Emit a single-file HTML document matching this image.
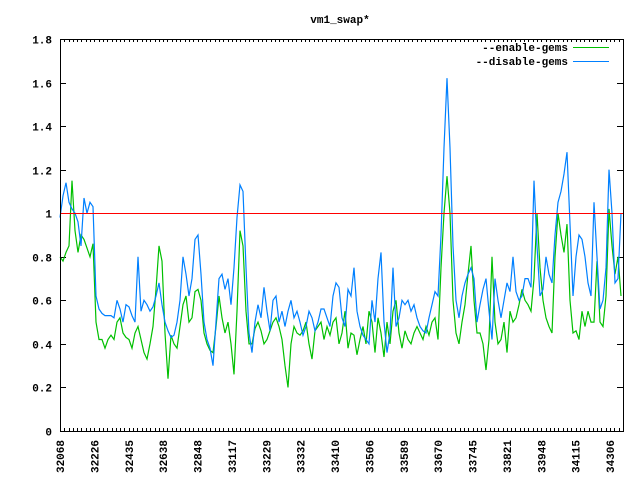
<!DOCTYPE html>
<html><head><meta charset="utf-8"><style>
html,body{margin:0;padding:0;background:#fff;}
svg text{font-family:"Liberation Mono","DejaVu Sans Mono",monospace;font-size:11px;font-weight:bold;fill:#000;}
</style></head><body>
<svg id="chart" width="640" height="480" xmlns="http://www.w3.org/2000/svg">
<rect x="0" y="0" width="640" height="480" fill="#fff"/>
<text x="340" y="23" text-anchor="middle">vm1_swap*</text>
<g id="axes"></g>
<g id="series"></g>
<rect x="60.5" y="39.5" width="563" height="392" fill="none" stroke="#000"/>
<g>
<text x="568" y="51" text-anchor="end">--enable-gems</text>
<line x1="573" y1="47.5" x2="609" y2="47.5" stroke="#00c000"/>
<text x="568" y="65" text-anchor="end">--disable-gems</text>
<line x1="573" y1="61.5" x2="609" y2="61.5" stroke="#0080ff"/>
</g>
</svg>
<script>
const xLabels=["32068","32226","32435","32638","32848","33117","33229","33332","33410","33506","33589","33670","33745","33821","33948","34115","34306"];
const yTicks=[0,0.2,0.4,0.6,0.8,1,1.2,1.4,1.6,1.8];
const yTickLabels=["0","0.2","0.4","0.6","0.8","1","1.2","1.4","1.6","1.8"];
const refValue=1;
const disableGems=[0.98,1.08,1.14,1.05,1.02,1.0,0.96,0.85,1.07,1.0,1.05,1.03,0.62,0.56,0.54,0.53,0.53,0.53,0.52,0.6,0.56,0.5,0.58,0.57,0.53,0.5,0.8,0.55,0.6,0.58,0.55,0.57,0.62,0.68,0.58,0.5,0.46,0.43,0.44,0.5,0.6,0.8,0.72,0.62,0.7,0.88,0.9,0.72,0.5,0.42,0.38,0.3,0.5,0.7,0.72,0.65,0.7,0.58,0.75,0.98,1.13,1.1,0.75,0.45,0.36,0.5,0.58,0.52,0.66,0.55,0.46,0.6,0.62,0.5,0.55,0.48,0.55,0.6,0.52,0.55,0.5,0.44,0.48,0.55,0.52,0.46,0.5,0.56,0.56,0.52,0.48,0.62,0.68,0.66,0.52,0.48,0.65,0.62,0.75,0.55,0.48,0.44,0.42,0.4,0.6,0.5,0.7,0.82,0.5,0.36,0.45,0.75,0.48,0.52,0.6,0.58,0.6,0.55,0.58,0.52,0.48,0.46,0.45,0.52,0.58,0.64,0.62,0.9,1.3,1.62,1.3,0.85,0.6,0.52,0.62,0.68,0.72,0.75,0.7,0.5,0.58,0.65,0.7,0.55,0.42,0.7,0.6,0.52,0.6,0.68,0.64,0.8,0.64,0.6,0.62,0.7,0.7,0.66,1.15,0.85,0.62,0.65,0.8,0.72,0.68,0.9,1.05,1.1,1.18,1.28,0.95,0.62,0.8,0.9,0.88,0.8,0.68,0.62,1.05,0.8,0.56,0.6,0.75,1.2,1.0,0.68,0.7,1.0];
const enableGems=[0.8,0.78,0.82,0.85,1.15,0.92,0.82,0.9,0.88,0.84,0.8,0.86,0.5,0.42,0.42,0.38,0.42,0.44,0.42,0.5,0.52,0.45,0.43,0.42,0.38,0.45,0.48,0.42,0.36,0.33,0.4,0.48,0.65,0.85,0.78,0.45,0.24,0.44,0.4,0.38,0.48,0.58,0.62,0.5,0.52,0.64,0.65,0.6,0.45,0.4,0.37,0.36,0.48,0.62,0.52,0.45,0.5,0.4,0.26,0.55,0.92,0.85,0.55,0.4,0.4,0.47,0.5,0.46,0.4,0.42,0.46,0.5,0.52,0.48,0.42,0.3,0.2,0.4,0.48,0.45,0.44,0.46,0.5,0.4,0.33,0.46,0.48,0.5,0.42,0.48,0.44,0.5,0.52,0.4,0.45,0.55,0.38,0.45,0.44,0.35,0.42,0.48,0.4,0.55,0.5,0.36,0.52,0.45,0.34,0.5,0.4,0.55,0.6,0.45,0.38,0.46,0.42,0.4,0.45,0.48,0.45,0.42,0.48,0.44,0.5,0.52,0.42,0.75,1.0,1.17,1.0,0.6,0.45,0.4,0.5,0.58,0.72,0.85,0.6,0.45,0.45,0.4,0.28,0.42,0.8,0.5,0.4,0.42,0.5,0.36,0.55,0.5,0.52,0.58,0.65,0.6,0.58,0.55,0.7,1.0,0.75,0.6,0.52,0.48,0.45,0.8,1.0,0.9,0.82,0.95,0.6,0.45,0.46,0.42,0.55,0.48,0.55,0.5,0.5,0.78,0.5,0.48,0.62,1.02,0.85,0.72,0.8,0.62];

const NS="http://www.w3.org/2000/svg";
const L=60,R=621,T=39,B=431,yMax=1.8;
function yScale(v){return B-(v/yMax)*(B-T);}
function xIdx(i,n){return L+i*(R-L)/(n-1);}
const axes=document.getElementById('axes');
yTicks.forEach((v,i)=>{
  const y=Math.round(yScale(v))+0.5;
  const t1=document.createElementNS(NS,'line');
  
  
  t1.setAttribute('x1',60);t1.setAttribute('x2',66);t1.setAttribute('y1',y);t1.setAttribute('y2',y);t1.setAttribute('stroke','#000');
  axes.appendChild(t1);
  const t2=document.createElementNS(NS,'line');
  
  
  t2.setAttribute('x1',617);t2.setAttribute('x2',623);t2.setAttribute('y1',y);t2.setAttribute('y2',y);t2.setAttribute('stroke','#000');
  axes.appendChild(t2);
  const tx=document.createElementNS(NS,'text');
  
  
  tx.setAttribute('x',52);tx.setAttribute('y',y+4);tx.setAttribute('text-anchor','end');
  tx.textContent=yTickLabels[i];
  axes.appendChild(tx);
});
const step=(610-60)/(xLabels.length-1);
const minor=step/8;
for(let x=60;x<=623;x+=minor){
  const xx=Math.round(x)+0.5;
  const a=document.createElementNS(NS,'line');
  
  
  a.setAttribute('x1',xx);a.setAttribute('x2',xx);a.setAttribute('y1',428);a.setAttribute('y2',431);a.setAttribute('stroke','#000');
  axes.appendChild(a);
  const b=document.createElementNS(NS,'line');
  
  
  b.setAttribute('x1',xx);b.setAttribute('x2',xx);b.setAttribute('y1',39);b.setAttribute('y2',42);b.setAttribute('stroke','#000');
  axes.appendChild(b);
}
xLabels.forEach((lab,i)=>{
  const x=60+i*step+4;
  const tx=document.createElementNS(NS,'text');
  
  
  tx.setAttribute('transform','translate('+x+',440) rotate(-90)');
  tx.setAttribute('text-anchor','end');
  tx.textContent=lab;
  axes.appendChild(tx);
});
const ser=document.getElementById('series');
function poly(arr,color,name){
  const p=document.createElementNS(NS,'polyline');
  
  
  p.setAttribute('points',arr.map((v,i)=>xIdx(i,arr.length).toFixed(1)+','+yScale(v).toFixed(1)).join(' '));
  p.setAttribute('fill','none');p.setAttribute('stroke',color);p.setAttribute('stroke-width','1.2');
  ser.appendChild(p);
}
poly(enableGems,'#00c000','series-enable-gems');
poly(disableGems,'#0080ff','series-disable-gems');
const ry=Math.round(yScale(refValue))+0.5;
const rl=document.createElementNS(NS,'line');


rl.setAttribute('x1',60);rl.setAttribute('x2',623);rl.setAttribute('y1',ry);rl.setAttribute('y2',ry);rl.setAttribute('stroke','#ff0000');
ser.appendChild(rl);
</script>
</body></html>
